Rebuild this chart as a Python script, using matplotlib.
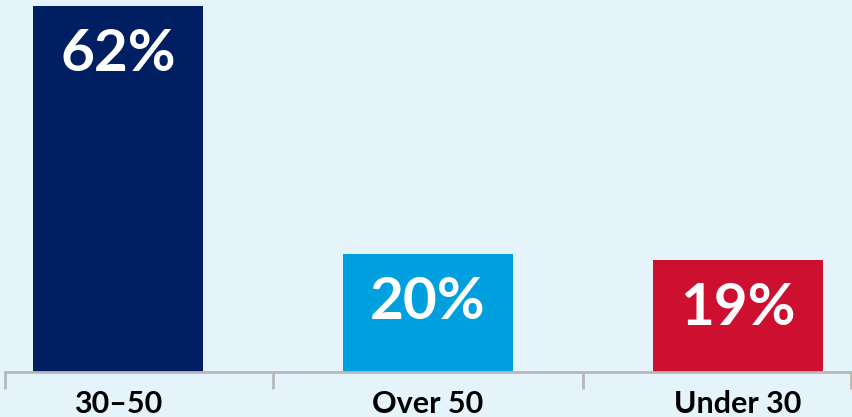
import matplotlib.pyplot as plt

categories = ["30\u201350", "Over 50", "Under 30"]
values = [62, 20, 19]
labels = ["62%", "20%", "19%"]
colors = ["#001f62", "#009fdf", "#ce1030"]

bg = "#e5f4fb"
fig = plt.figure(figsize=(8.52, 4.17), dpi=100, facecolor=bg)
ax = fig.add_axes([5 / 852, 45 / 417, 846 / 852, 366 / 417], facecolor=bg)

x = range(len(categories))
ax.bar(x, values, width=0.548, color=colors, zorder=2)

for i, (v, lab) in enumerate(zip(values, labels)):
    ax.annotate(lab, (i, v), xytext=(0, -35), textcoords="offset points",
                ha="center", va="center", color="white",
                fontsize=42, fontweight="bold", family="Lato")

ax.set_xlim(-0.3645, 2.3645)
ax.set_ylim(0, 62)

for s in ["top", "right", "left"]:
    ax.spines[s].set_visible(False)
ax.spines["bottom"].set_color("#b8b8b8")
ax.spines["bottom"].set_linewidth(2)
ax.set_yticks([])

ax.set_xticks(list(x))
ax.set_xticklabels(categories, fontsize=22, fontweight="bold", family="Lato")
ax.tick_params(axis="x", which="major", length=0, pad=13)
ax.set_xticks([-0.3645, 0.5, 1.5, 2.3645], minor=True)
ax.tick_params(axis="x", which="minor", length=12, width=2, color="#b8b8b8")

fig.savefig("out.png", dpi=100, facecolor=bg)
